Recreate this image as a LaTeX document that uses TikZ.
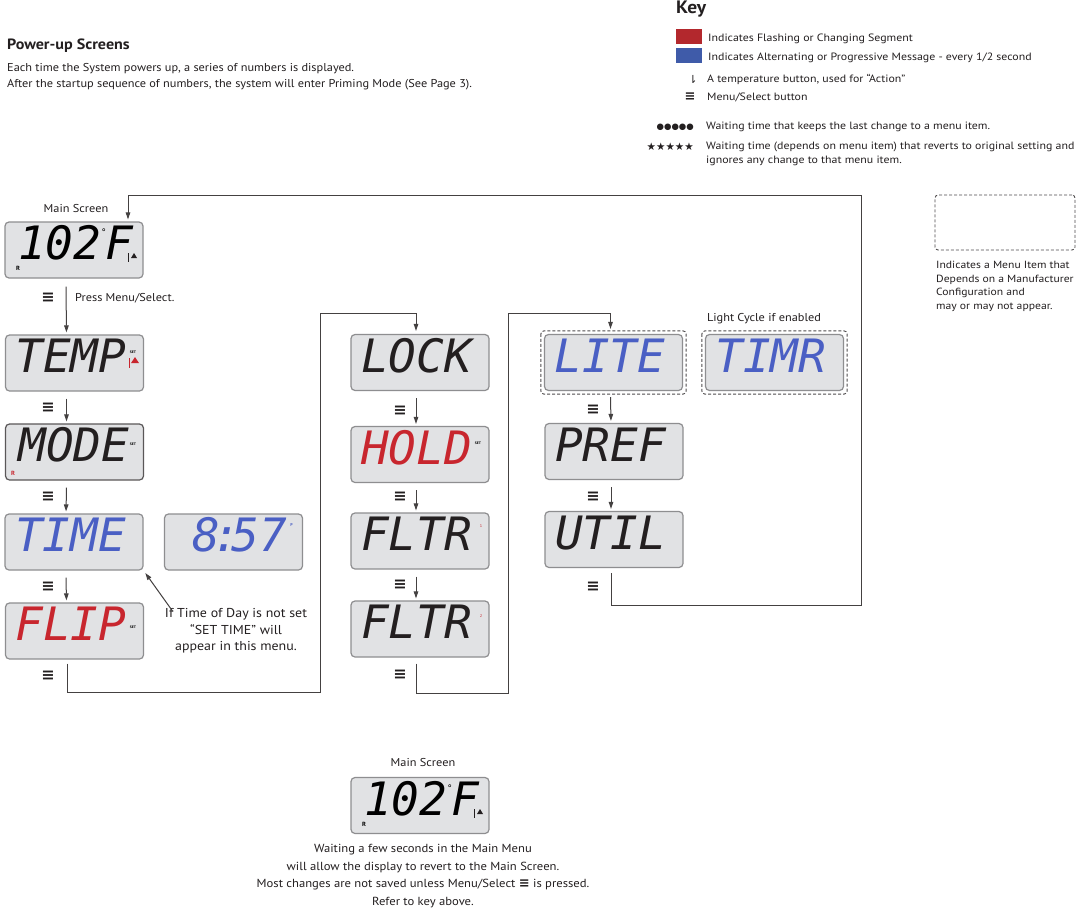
\documentclass[tikz,border=0pt]{standalone}
\usepackage{fontspec}
\setmainfont{PT Sans}[FakeStretch=1.08]
\newfontfamily\keyfont{PT Sans}[FakeStretch=1.12]
\newfontfamily\symfont{DejaVu Sans}
\newfontfamily\lcdfont{DejaVu Sans Mono}
\usetikzlibrary{arrows.meta, positioning}
\definecolor{lcdfill}{HTML}{E1E2E4}
\definecolor{lcdedge}{HTML}{8E8E90}
\definecolor{segred}{HTML}{C8262E}
\definecolor{segblue}{HTML}{4A5FC4}
\definecolor{keyred}{HTML}{B3282D}
\definecolor{keyblue}{HTML}{3F5BA9}
\definecolor{ink}{HTML}{231F20}
\newcommand{\menusym}{{\symfont\bfseries ≡}}
\newcommand{\setmark}{{\fontsize{3.5}{3.5}\selectfont\bfseries SET}}
\newcommand{\degmark}{\raisebox{24pt}{\fontsize{9}{9}\selectfont\upshape °}\kern-1pt}

\begin{document}
\begin{tikzpicture}[x=1pt, y=-1pt,
    lcd/.style={draw=lcdedge, fill=lcdfill, line width=1.2pt, rounded corners=4pt,
        minimum width=138pt, minimum height=56pt, text width=118pt, align=left,
        inner sep=0pt, text height=26pt, text depth=7pt,
        font=\lcdfont\itshape\fontsize{46}{46}\selectfont},
    optbox/.style={draw=ink!80, dashed, dash pattern=on 3pt off 2pt, line width=0.9pt, rounded corners=3pt},
    arr/.style={-{Triangle[length=7pt,width=4.5pt]}, line width=1pt, draw=ink!85, shorten >=2pt},
    menu/.style={font=\fontsize{16}{16}\selectfont, inner sep=0pt, text=ink},
    txt/.style={font=\fontsize{11.4}{16}\selectfont, text=ink, inner sep=0pt},
    keytxt/.style={font=\keyfont\fontsize{10.6}{14}\selectfont, text=ink, inner sep=0pt},
    swatch/.style={minimum width=26pt, minimum height=15pt, inner sep=0pt},
    tiny/.style={font=\fontsize{6}{6}\selectfont\bfseries, inner sep=0pt}]
\useasboundingbox (0,0) rectangle (1086,915);
\fill[white] (0,0) rectangle (1086,915);

% header text
\node[txt, font=\bfseries\fontsize{14.9}{14.9}\selectfont, anchor=west] (pwrttl) at (7,46) {Power-up Screens};
\node[txt, anchor=north west, align=left] (pwrtxt) at (7,63) {Each time the System powers up, a series of numbers is displayed.\\After the startup sequence of numbers, the system will enter Priming Mode (See Page 3).};

% key
\node[font=\bfseries\fontsize{18}{18}\selectfont, text=ink, anchor=west, inner sep=0pt] (keyttl) at (676,9) {Key};
\node[swatch, fill=keyred] (kred) at (689,36.5) {};
\node[keytxt, anchor=west] (kredtxt) at (708,39) {Indicates Flashing or Changing Segment};
\node[swatch, fill=keyblue] (kblue) at (689,55.5) {};
\node[keytxt, anchor=west] (kbluetxt) at (708,58) {Indicates Alternating or Progressive Message - every 1/2 second};
\node[keytxt, font=\symfont\fontsize{11}{11}\selectfont] (ktemp) at (693,79) {⇂};
\node[keytxt, anchor=west] (ktemptxt) at (707,79) {A temperature button, used for “Action”};
\node[menu, font=\fontsize{13}{13}\selectfont] (kmenu) at (690,97) {\menusym};
\node[keytxt, anchor=west] (kmenutxt) at (707,97) {Menu/Select button};
\node[keytxt, anchor=east, font=\symfont\fontsize{8.5}{8.5}\selectfont] (kdots) at (694,127) {●●●●●};
\node[keytxt, anchor=west] (kdotstxt) at (706,127) {Waiting time that keeps the last change to a menu item.};
\node[keytxt, anchor=east, font=\symfont\fontsize{10.5}{10.5}\selectfont] (kstars) at (694,147) {★★★★★};
\node[keytxt, anchor=north west, align=left] (kstarstxt) at (706,142) {Waiting time (depends on menu item) that reverts to original setting and\\ignores any change to that menu item.};

% optional item legend
\node[optbox, minimum width=140pt, minimum height=55pt] (optkey) at (1005,222.5) {};
\node[keytxt, font=\keyfont\fontsize{10.4}{13.7}\selectfont, anchor=north west, align=left] (optkeytxt) at (936,261) {Indicates a Menu Item that\\Depends on a Manufacturer\\Configuration and\\may or may not appear.};

% column 1
\node[txt] (mainlbl) at (76,209) {Main Screen};
\node[lcd] (main) at (74,250) {\hspace*{3pt}102\degmark F};
\node[lcd, text=ink] (temp) at (74.5,363) {TEMP};
\node[lcd, text=ink, draw=ink!75] (mode) at (74.5,452) {\hspace*{3pt}MODE};
\node[lcd, text=segblue] (time) at (74,542) {TIME};
\node[lcd, text=segblue] (clock) at (233.5,542) {\hspace*{18pt}8\kern-8pt:\kern-8pt57\rlap{\raisebox{25pt}{\fontsize{4}{4}\selectfont\upshape\bfseries\hspace*{3pt}P}}};
\node[lcd, text=segred] (flip) at (74.5,631) {FLIP};

% display marks, column 1
\node[tiny] (mainr) at (18,268) {R};
\draw[ink, line width=0.6pt] (128,253) -- (128,262);
\fill[ink] (131,258) -- (137,258) -- (134,253) -- cycle;
\node[tiny] (tempset) at (133,352) {\setmark};
\draw[segred, line width=0.7pt] (129,358) -- (129,368);
\fill[segred] (131,363) -- (139,363) -- (135,357) -- cycle;
\node[tiny] (modeset) at (133,444) {\setmark};
\node[tiny, text=segred] (moder) at (13,473) {R};
\node[tiny] (flipset) at (133,627) {\setmark};

% column 1 connectors
\node[menu] (m1) at (48,298) {\menusym};
\node[txt, anchor=west] (presslbl) at (75,298) {Press Menu/Select.};
\draw[arr] ([xshift=-8pt,yshift=-8pt]main.south) -- ([xshift=-8pt]temp.north);
\node[menu] (m2) at (48,408) {\menusym};
\draw[arr] ([xshift=-8pt,yshift=-7pt]temp.south) -- ([xshift=-8pt]mode.north);
\node[menu] (m3) at (48,497) {\menusym};
\draw[arr] ([xshift=-8pt,yshift=-7pt]mode.south) -- ([xshift=-8pt]time.north);
\node[menu] (m4) at (48,587) {\menusym};
\draw[arr] ([xshift=-8pt,yshift=-7pt]time.south) -- ([xshift=-8pt]flip.north);
\node[menu] (m5) at (48,676) {\menusym};

\node[txt, font=\fontsize{12.9}{16.5}\selectfont, align=center] (timenote) at (236,631) {If Time of Day is not set\\“SET TIME” will\\appear in this menu.};
\draw[arr, shorten >=3pt] ([xshift=8pt,yshift=-3pt]timenote.north west) -- (time.south east);

% column 2
\node[lcd, text=ink] (lock) at (420,362.5) {LOCK};
\node[lcd, text=segred] (hold) at (420,454.5) {HOLD};
\node[lcd, text=ink] (fltra) at (420,541) {FLTR};
\node[lcd, text=ink] (fltrb) at (420,629) {FLTR};
\node[tiny] (holdset) at (478,443) {\setmark};
\node[tiny, text=segred, font=\fontsize{4}{4}\selectfont] (fltranum) at (481,526) {1};
\node[tiny, text=segred, font=\fontsize{4}{4}\selectfont] (fltrbnum) at (481,616) {2};

\node[menu] (m6) at (400,411) {\menusym};
\draw[arr] ([xshift=-4pt,yshift=-7pt]lock.south) -- ([xshift=-4pt]hold.north);
\node[menu] (m7) at (400,497) {\menusym};
\draw[arr] ([xshift=-4pt,yshift=-7pt]hold.south) -- ([xshift=-4pt]fltra.north);
\node[menu] (m8) at (400,585) {\menusym};
\draw[arr] ([xshift=-4pt,yshift=-7pt]fltra.south) -- ([xshift=-4pt]fltrb.north);
\node[menu] (m9) at (400,675) {\menusym};

% column 3
\node[txt] (lightlbl) at (764,319) {Light Cycle if enabled};
\node[lcd, text=segblue] (lite) at (613.5,362.5) {LITE};
\node[lcd, text=segblue] (timr) at (774.5,362.5) {TIMR};
\draw[optbox] ([shift={(-3pt,3pt)}]lite.north west) rectangle ([shift={(3pt,-3pt)}]lite.south east);
\draw[optbox] ([shift={(-3pt,3pt)}]timr.north west) rectangle ([shift={(3pt,-3pt)}]timr.south east);
\node[lcd, text=ink] (pref) at (614,451.5) {PREF};
\node[lcd, text=ink] (util) at (614,539.5) {UTIL};

\node[menu] (m10) at (593,410) {\menusym};
\draw[arr] ([xshift=-3pt,yshift=-6pt]lite.south) -- ([xshift=-3pt]pref.north);
\node[menu] (m11) at (593,497) {\menusym};
\draw[arr] ([xshift=-3pt,yshift=-7pt]pref.south) -- ([xshift=-3pt]util.north);
\node[menu] (m12) at (593,587) {\menusym};

% loops
\coordinate (loopa) at (320,692);
\coordinate (loopatop) at (320,313);
\draw[arr, shorten >=3pt] ([xshift=-7pt,yshift=-4pt]flip.south) |- (loopa) -- (loopatop) -| ([xshift=-4pt]lock.north);
\coordinate (loopb) at (508,693);
\coordinate (loopbtop) at (508,313);
\draw[arr, shorten >=5pt] ([xshift=-4pt,yshift=-6pt]fltrb.south) |- (loopb) -- (loopbtop) -| ([xshift=-3pt]lite.north);
\coordinate (loopc) at (861,605);
\coordinate (loopctop) at (861,195);
\draw[arr] ([xshift=-3pt,yshift=-5pt]util.south) |- (loopc) -- (loopctop) -| ([xshift=54pt]main.north);

% bottom main screen
\node[txt] (endlbl) at (423,763) {Main Screen};
\node[lcd] (endmain) at (420,805.5) {\hspace*{3pt}102\degmark F};
\node[tiny] (endr) at (364,824) {R};
\draw[ink, line width=0.6pt] (474,809) -- (474,818);
\fill[ink] (477,814) -- (483,814) -- (480,809) -- cycle;
\node[txt, font=\fontsize{11.7}{17.5}\selectfont, align=center] (endtxt) at (423,876) {Waiting a few seconds in the Main Menu\\will allow the display to revert to the Main Screen.\\Most changes are not saved unless Menu/Select {\fontsize{13}{13}\selectfont\menusym} is pressed.\\Refer to key above.};
\end{tikzpicture}
\end{document}
